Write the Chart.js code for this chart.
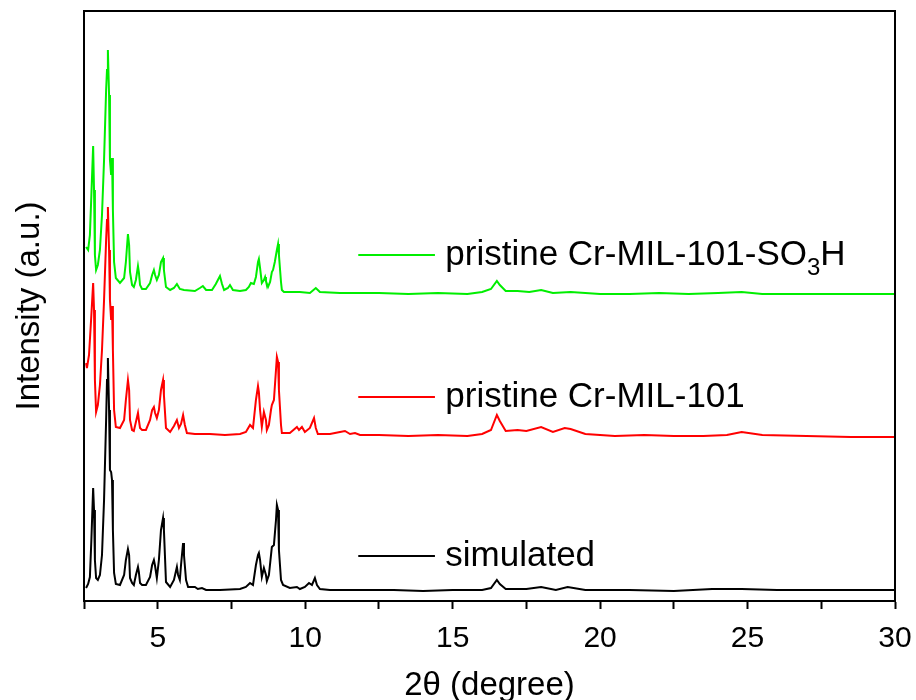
<!DOCTYPE html>
<html>
<head>
<meta charset="utf-8">
<script src="https://cdn.jsdelivr.net/npm/chart.js@4/dist/chart.umd.min.js"></script>
<style>
  html, body { margin: 0; padding: 0; background: #fff; }
  #xrd { display: block; }
</style>
</head>
<body>
<canvas id="xrd" width="916" height="700"></canvas>
<script>
// XRD patterns (2theta in degree, intensity in a.u., offsets included)
const seriesNames = ["simulated", "pristine Cr-MIL-101", "pristine Cr-MIL-101-SO3H"];
const seriesColors = ["#000000", "#ff0000", "#00ee00"];

const simX = [2.57, 2.64, 2.70, 2.75, 2.81, 2.84, 2.87, 2.91, 2.97, 3.04, 3.11, 3.18, 3.25, 3.28, 3.31, 3.35, 3.38, 3.42, 3.45, 3.48,
  3.52, 3.58, 3.72, 3.86, 3.92, 3.99, 4.03, 4.06, 4.13, 4.19, 4.26, 4.33, 4.36, 4.40, 4.47, 4.60, 4.74, 4.81, 4.87, 4.91,
  4.97, 5.04, 5.11, 5.18, 5.21, 5.28, 5.42, 5.55, 5.65, 5.69, 5.75, 5.79, 5.86, 5.89, 5.96, 6.03, 6.26, 6.36, 6.50, 6.64,
  7.11, 7.79, 7.99, 8.13, 8.23, 8.33, 8.40, 8.43, 8.47, 8.53, 8.60, 8.67, 8.70, 8.77, 8.87, 8.94, 9.01, 9.04, 9.08, 9.11,
  9.18, 9.25, 9.48, 9.72, 9.82, 9.99, 10.13, 10.23, 10.33, 10.40, 10.50, 10.84, 12.0, 13.0, 14.0, 15.0, 16.0, 16.3, 16.5, 16.6,
  16.8, 17.5, 18.0, 18.5, 18.9, 19.5, 21.0, 22.5, 23.8, 24.8, 26.0, 27.5, 30.0];
const simY = [13, 17, 24, 61, 113, 91, 41, 23, 21, 26, 46, 101, 181, 221, 243, 191, 131, 129, 121, 71,
  28, 17, 16, 26, 41, 52, 46, 23, 18, 16, 26, 34, 29, 18, 16, 16, 24, 36, 41, 35,
  23, 41, 71, 83, 71, 19, 14, 21, 34, 26, 21, 36, 58, 46, 21, 14, 14, 12, 13, 11,
  11, 12, 14, 18, 16, 36, 46, 48, 41, 24, 33, 26, 20, 26, 54, 56, 81, 96, 91, 51,
  21, 16, 13, 14, 12, 14, 18, 16, 23, 16, 12, 11, 11, 11, 10, 11, 11, 13, 21, 17,
  12, 12, 14, 11, 14, 11, 11, 10, 12, 12, 11, 11, 11];

const cr101X = [2.57, 2.60, 2.67, 2.74, 2.81, 2.84, 2.87, 2.91, 2.97, 3.04, 3.11, 3.18, 3.25, 3.28, 3.31, 3.35, 3.38, 3.42, 3.45, 3.48,
  3.52, 3.58, 3.72, 3.86, 3.92, 3.99, 4.03, 4.06, 4.13, 4.19, 4.26, 4.33, 4.36, 4.40, 4.47, 4.60, 4.74, 4.81, 4.87, 4.91,
  4.97, 5.04, 5.11, 5.18, 5.21, 5.28, 5.42, 5.55, 5.65, 5.72, 5.79, 5.86, 5.92, 5.99, 6.26, 6.77, 7.28, 7.79, 7.99, 8.13,
  8.23, 8.33, 8.40, 8.43, 8.47, 8.53, 8.60, 8.67, 8.70, 8.77, 8.84, 8.87, 8.94, 9.01, 9.04, 9.08, 9.11, 9.18, 9.21, 9.48,
  9.72, 9.79, 9.89, 9.99, 10.16, 10.30, 10.36, 10.43, 10.84, 11.18, 11.35, 11.52, 11.69, 11.86, 12.5, 13.5, 14.5, 15.5, 16.0, 16.3,
  16.5, 16.6, 16.8, 17.2, 17.5, 18.0, 18.4, 18.8, 19.0, 19.5, 20.5, 21.5, 22.5, 23.5, 24.3, 24.8, 25.5, 27.0, 28.5, 30.0];
const cr101Y = [238, 233, 246, 281, 318, 291, 221, 189, 196, 216, 251, 301, 361, 381, 394, 351, 301, 281, 295, 251,
  191, 174, 173, 181, 201, 221, 211, 181, 171, 170, 179, 188, 181, 173, 171, 171, 181, 191, 194, 188,
  183, 191, 211, 221, 206, 173, 169, 175, 181, 173, 177, 186, 176, 168, 167, 167, 166, 167, 169, 176,
  173, 201, 215, 209, 191, 174, 189, 181, 171, 176, 191, 196, 201, 231, 244, 239, 211, 176, 168, 168,
  174, 171, 174, 169, 173, 183, 173, 167, 167, 169, 170, 167, 168, 166, 166, 165, 166, 165, 167, 171,
  186, 180, 170, 171, 170, 174, 169, 173, 172, 167, 165, 166, 165, 165, 166, 169, 166, 165, 164, 164];

const so3hX = [2.57, 2.64, 2.70, 2.75, 2.81, 2.84, 2.87, 2.91, 2.97, 3.04, 3.11, 3.18, 3.25, 3.28, 3.31, 3.35, 3.38, 3.42, 3.45, 3.48,
  3.52, 3.58, 3.72, 3.86, 3.92, 3.99, 4.03, 4.06, 4.13, 4.19, 4.26, 4.33, 4.36, 4.40, 4.47, 4.60, 4.74, 4.81, 4.87, 4.91,
  4.97, 5.04, 5.11, 5.18, 5.21, 5.28, 5.42, 5.55, 5.65, 5.75, 5.89, 6.26, 6.43, 6.53, 6.64, 6.84, 6.97, 7.04, 7.11, 7.18,
  7.25, 7.38, 7.45, 7.55, 7.79, 7.99, 8.09, 8.16, 8.26, 8.33, 8.40, 8.43, 8.47, 8.53, 8.60, 8.64, 8.67, 8.74, 8.81, 8.87,
  8.91, 8.97, 9.04, 9.08, 9.11, 9.18, 9.21, 9.28, 9.48, 9.82, 10.16, 10.36, 10.50, 11.18, 11.86, 12.5, 13.5, 14.5, 15.5, 16.0,
  16.3, 16.5, 16.6, 16.8, 17.2, 17.6, 18.0, 18.4, 19.0, 20.0, 21.0, 22.0, 23.0, 24.0, 24.8, 25.5, 27.0, 28.5, 30.0];
const so3hY = [354, 351, 366, 406, 455, 411, 346, 331, 336, 351, 386, 441, 511, 531, 551, 506, 441, 426, 443, 391,
  339, 323, 318, 323, 339, 367, 356, 329, 316, 314, 321, 335, 329, 316, 312, 312, 318, 326, 331, 326,
  321, 326, 339, 343, 331, 314, 311, 313, 317, 312, 311, 310, 313, 315, 311, 311, 317, 321, 325, 317,
  311, 313, 316, 311, 310, 311, 314, 318, 317, 324, 339, 342, 333, 318, 321, 324, 320, 314, 319, 329,
  331, 339, 351, 357, 346, 319, 311, 309, 309, 309, 308, 313, 309, 308, 308, 308, 307, 308, 307, 309,
  312, 320, 316, 310, 310, 309, 311, 308, 309, 307, 307, 308, 307, 308, 309, 307, 307, 307, 307];

// axis settings
const xMin = 2.5, xMax = 30, xStep = 2.5, xLabelStep = 5;
const yMin = 0, yMax = 590;

// in-plot labels: line from legendLineX[0] to [1], text at legendTextX, one y per series
const legendLineX = [11.8, 14.4];
const legendTextX = 14.75;
const legendY = [45, 204, 346];

const toPoints = (xs, ys) => xs.map((x, i) => ({ x: x, y: ys[i] }));
const seriesPoints = [toPoints(simX, simY), toPoints(cr101X, cr101Y), toPoints(so3hX, so3hY)];

const FONT = "'Liberation Sans', Arial, sans-serif";

const frame = {
  id: "frame",
  afterDraw(chart) {
    const { ctx, chartArea: a } = chart;
    ctx.save();
    ctx.strokeStyle = "#000";
    ctx.lineWidth = 2;
    ctx.strokeRect(a.left, a.top, a.right - a.left, a.bottom - a.top);
    ctx.restore();
  }
};

const seriesLabels = {
  id: "seriesLabels",
  afterDatasetsDraw(chart) {
    const { ctx } = chart;
    const xs = chart.scales.x, ys = chart.scales.y;
    ctx.save();
    ctx.textBaseline = "middle";
    ctx.fillStyle = "#000";
    seriesNames.forEach((name, i) => {
      const py = ys.getPixelForValue(legendY[i]);
      ctx.strokeStyle = seriesColors[i];
      ctx.lineWidth = 2;
      ctx.beginPath();
      ctx.moveTo(xs.getPixelForValue(legendLineX[0]), py);
      ctx.lineTo(xs.getPixelForValue(legendLineX[1]), py);
      ctx.stroke();
      let tx = xs.getPixelForValue(legendTextX);
      const m = name.match(/^(.*SO)(3)(H)$/);
      ctx.font = "35px " + FONT;
      if (m) {
        ctx.fillText(m[1], tx, py);
        tx += ctx.measureText(m[1]).width;
        ctx.font = "24px " + FONT;
        ctx.fillText(m[2], tx, py + 13);
        tx += ctx.measureText(m[2]).width;
        ctx.font = "35px " + FONT;
        ctx.fillText(m[3], tx, py);
      } else {
        ctx.fillText(name, tx, py);
      }
    });
    ctx.restore();
  }
};

new Chart(document.getElementById("xrd").getContext("2d"), {
  type: "line",
  data: {
    datasets: seriesNames.map((name, i) => ({
      label: name,
      data: seriesPoints[i],
      borderColor: seriesColors[i],
      borderWidth: 2,
      pointRadius: 0,
      tension: 0,
      fill: false
    }))
  },
  options: {
    responsive: false,
    animation: false,
    devicePixelRatio: 1,
    layout: { padding: { top: 11, right: 21, left: 0, bottom: 0 } },
    plugins: { legend: { display: false }, tooltip: { enabled: false } },
    scales: {
      x: {
        type: "linear",
        min: xMin,
        max: xMax,
        afterFit(scale) {
          scale.height = 99;
          scale.paddingLeft = 0;
          scale.paddingRight = 0;
        },
        afterBuildTicks(scale) {
          const t = [];
          for (let v = xMin; v <= xMax + 1e-9; v += xStep) t.push({ value: v });
          scale.ticks = t;
        },
        ticks: {
          autoSkip: false,
          maxRotation: 0,
          padding: 12,
          color: "#000",
          font: { family: FONT, size: 30 },
          callback: v => (Math.abs(v % xLabelStep) < 1e-9 ? String(v) : "")
        },
        grid: {
          drawOnChartArea: false,
          drawTicks: true,
          tickLength: 8,
          tickWidth: 2,
          tickColor: "#000"
        },
        border: { display: true, color: "#000", width: 2 },
        title: {
          display: true,
          text: "2θ (degree)",
          color: "#000",
          font: { family: FONT, size: 33, lineHeight: 1.0 },
          padding: { top: 0, bottom: -2 }
        }
      },
      y: {
        type: "linear",
        min: yMin,
        max: yMax,
        afterFit(scale) { scale.width = 84; },
        ticks: { display: false },
        grid: { display: false },
        border: { display: true, color: "#000", width: 2 },
        title: {
          display: true,
          text: "Intensity (a.u.)",
          color: "#000",
          font: { family: FONT, size: 33, lineHeight: 1.0 },
          padding: { top: 13, bottom: 0 }
        }
      }
    }
  },
  plugins: [frame, seriesLabels]
});
</script>
</body>
</html>
